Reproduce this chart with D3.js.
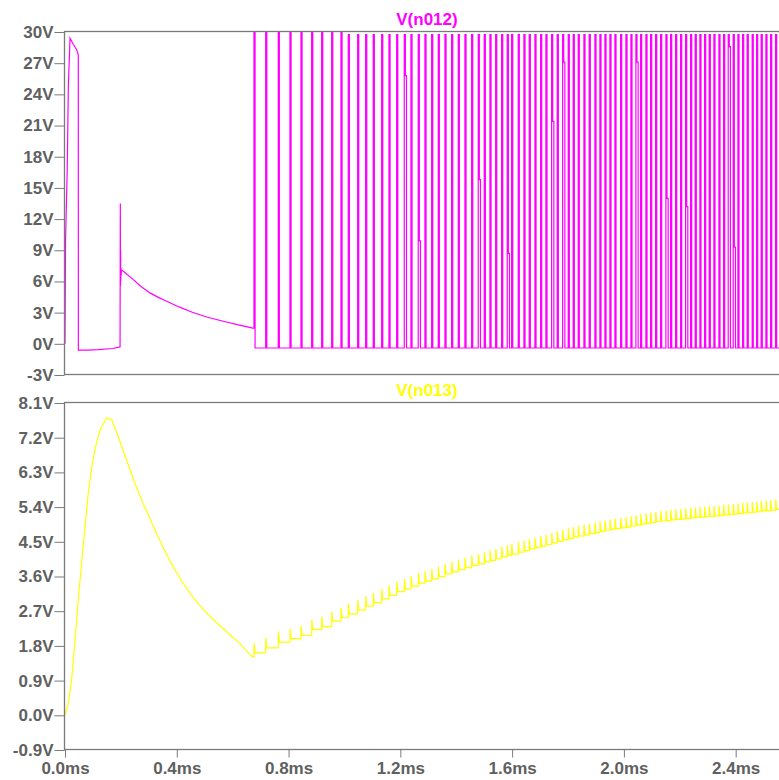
<!DOCTYPE html>
<html><head><meta charset="utf-8">
<script src="https://cdn.jsdelivr.net/npm/d3@7"></script>
<style>
html,body{margin:0;padding:0;background:#fff;overflow:hidden}
svg{display:block}
.tick text{font-family:"Liberation Sans",Arial,sans-serif;font-weight:bold;font-size:17px;fill:#606060}
.tick line{stroke:#7a7a7a}
</style></head><body>
<svg id="c" width="779" height="780"></svg>
<script>
// ---------- data (ms, V) ----------
const xTicks = [0, 0.4, 0.8, 1.2, 1.6, 2.0, 2.4];
const xTickLabels = ["0.0ms","0.4ms","0.8ms","1.2ms","1.6ms","2.0ms","2.4ms"];
const topTicks = [-3, 0, 3, 6, 9, 12, 15, 18, 21, 24, 27, 30];
const topTickLabels = ["-3V","0V","3V","6V","9V","12V","15V","18V","21V","24V","27V","30V"];
const botTicks = [-0.9, 0, 0.9, 1.8, 2.7, 3.6, 4.5, 5.4, 6.3, 7.2, 8.1];
const botTickLabels = ["-0.9V","0.0V","0.9V","1.8V","2.7V","3.6V","4.5V","5.4V","6.3V","7.2V","8.1V"];
const topTitle = "V(n012)";
const botTitle = "V(n013)";

// V(n012) before the pulse train
const n012Time  = [0, 0.002, 0.008, 0.012, 0.018, 0.030, 0.0418, 0.0476, 0.0478, 0.080, 0.120, 0.170, 0.190, 0.197,
                   0.198, 0.1985, 0.199, 0.1995, 0.200, 0.201, 0.202, 0.2086, 0.2444, 0.272, 0.304, 0.334, 0.364, 0.408,
                   0.4555, 0.510, 0.5664, 0.620, 0.668, 0.675];
const n012Value = [0, 10.0, 16.8, 24.8, 29.4, 28.8, 28.3, 27.8, -0.6, -0.6, -0.55, -0.45, -0.35, -0.3,
                   13.5, 5.6, 9.0, 6.0, 7.3, 6.6, 7.1, 6.98, 6.18, 5.52, 4.9, 4.47, 4.1, 3.55,
                   3.04, 2.56, 2.17, 1.82, 1.54, 1.5];

// pulse train: rising-edge times (ms)
const pulseStart = [0.6762,0.7181,0.7631,0.8050,0.8444,0.8826,0.9184,0.9542,0.9875,1.0136,
  1.0472,1.0758,1.1030,1.1331,1.1592,1.1868,1.2140,1.2379,1.2640,1.2880,
  1.3120,1.3356,1.3596,1.3835,1.4072,1.4311,1.4551,1.4787,1.5002,1.5206,
  1.5410,1.5624,1.5825,1.5982,1.6218,1.6422,1.6612,1.6816,1.7020,1.7209,
  1.7413,1.7614,1.7807,1.8007,1.8186,1.8365,1.8569,1.8758,1.8962,1.9141,
  1.9320,1.9499,1.9678,1.9882,2.0072,2.0250,2.0429,2.0597,2.0787,2.0955,
  2.1134,2.1313,2.1503,2.1671,2.1850,2.2029,2.2207,2.2386,2.2551,2.2719,
  2.2887,2.3052,2.3220,2.3399,2.3567,2.3732,2.3911,2.4079,2.4247,2.4411,
  2.4590,2.4748,2.4912,2.5081,2.5249,2.5427];
const pulseHighFirst = 29.95;   // first pulses touch the frame
const pulseHighRest = 29.75;
const pulseHighFirstCount = 9;
const pulseLow = -0.4;
const pulseWidth = 0.004;
// two-step falling edges (intermediate level)
const partialTimes  = [1.2165, 1.2676, 1.4787, 1.5860, 1.7388, 1.7828, 2.0454, 2.1503, 2.2218, 2.3767, 2.3853];
const partialLevels = [25.8,   9.9,    15.8,   8.7,    21.4,   27.1,   27.1,   14.0,   13.2,   28.6,   9.3];
const endTime = 2.56;

// V(n013) before the pulse train
const n013Time  = [0, 0.012, 0.024, 0.036, 0.048, 0.066, 0.083, 0.096, 0.107, 0.125, 0.149, 0.167, 0.191, 0.221, 0.250, 0.280,
                   0.328, 0.360, 0.3875, 0.420, 0.459, 0.500, 0.543, 0.585, 0.626, 0.668, 0.675];
const n013Value = [0, 0.32, 0.95, 1.95, 3.05, 4.45, 5.75, 6.45, 6.90, 7.39, 7.72, 7.67, 7.22, 6.61, 6.02, 5.49,
                   4.71, 4.22, 3.85, 3.45, 3.05, 2.70, 2.40, 2.12, 1.86, 1.53, 1.51];
// V(n013) settled level after each pulse
const n013Step = [1.62,1.75,1.90,1.99,2.07,2.22,2.30,2.44,2.53,2.63,
  2.73,2.83,2.92,3.02,3.11,3.21,3.28,3.35,3.43,3.48,
  3.54,3.60,3.67,3.72,3.78,3.83,3.89,3.93,3.98,4.02,
  4.06,4.11,4.15,4.18,4.23,4.27,4.31,4.35,4.39,4.43,
  4.47,4.51,4.55,4.59,4.62,4.65,4.68,4.71,4.74,4.77,
  4.80,4.82,4.84,4.86,4.88,4.91,4.93,4.96,4.98,5.00,
  5.02,5.04,5.05,5.07,5.08,5.09,5.11,5.12,5.13,5.14,
  5.15,5.16,5.17,5.18,5.20,5.21,5.22,5.23,5.25,5.26,
  5.27,5.28,5.30,5.31,5.32,5.34];
const n013Spike = 0.26;

// ---------- layout ----------
const W = 779, H = 780;
const left = 65, right = 779;
const topY0 = 32, topY1 = 375;
const botY0 = 403, botY1 = 750;
const frameColor = "#7a7a7a";
const magenta = "#ff00ff", yellow = "#ffff00";

const svg = d3.select("#c");
const x = d3.scaleLinear().domain([0, 2.555]).range([left, right]);
const yTop = d3.scaleLinear().domain([-3, 30]).range([topY1, topY0]);
const yBot = d3.scaleLinear().domain([-0.9, 8.1]).range([botY1, botY0]);

// ---------- build series ----------
function nearestPulse(t) {
  let best = 0, bd = 1e9;
  pulseStart.forEach((ps, j) => { const d = Math.abs(ps - t); if (d < bd) { bd = d; best = j; } });
  return best;
}
const stepByPulse = {};
partialTimes.forEach((pt, k) => {
  const j = nearestPulse(pt);
  if (!(j in stepByPulse)) stepByPulse[j] = [pt, partialLevels[k]];
});

const topPts = n012Time.map((t, i) => [t, n012Value[i]]);
pulseStart.forEach((s, i) => {
  const hi = i < pulseHighFirstCount ? pulseHighFirst : pulseHighRest;
  const prev = topPts[topPts.length - 1][1];
  topPts.push([s, prev], [s, hi]);
  if (i in stepByPulse) {
    const [pt, lvl] = stepByPulse[i];
    const f = Math.max(s + pulseWidth, pt);
    topPts.push([f, hi], [f, lvl], [f + 0.004, lvl], [f + 0.004, pulseLow]);
  } else {
    topPts.push([s + pulseWidth, hi], [s + pulseWidth, pulseLow]);
  }
});
topPts.push([endTime, pulseLow]);

const botPts = n013Time.map((t, i) => [t, n013Value[i]]);
pulseStart.forEach((s, i) => {
  const prev = botPts[botPts.length - 1][1];
  botPts.push([s, prev], [s + 0.0005, n013Step[i] + n013Spike], [s + pulseWidth, n013Step[i]]);
});
botPts.push([endTime, n013Step[n013Step.length - 1]]);

// ---------- clips ----------
const defs = svg.append("defs");
defs.append("clipPath").attr("id", "clipTop").append("rect")
  .attr("x", left).attr("y", topY0).attr("width", W).attr("height", topY1 - topY0);
defs.append("clipPath").attr("id", "clipBot").append("rect")
  .attr("x", left).attr("y", botY0).attr("width", W).attr("height", botY1 - botY0);

const lbl = s => s.style("font-family", '"Liberation Sans",Arial,sans-serif')
  .style("font-weight", "bold").style("font-size", "17px");

// ---------- top pane ----------
const gTop = svg.append("g");
gTop.append("g").attr("clip-path", "url(#clipTop)")
  .append("path").datum(topPts)
  .attr("fill", "none").attr("stroke", magenta).attr("stroke-width", 1.2)
  .attr("d", d3.line().x(d => x(d[0])).y(d => yTop(d[1])));
gTop.append("rect").attr("x", left - 0.5).attr("y", topY0 - 0.5)
  .attr("width", W).attr("height", topY1 - topY0)
  .attr("fill", "none").attr("stroke", frameColor).attr("stroke-width", 1.3);
const axTop = gTop.append("g").attr("transform", `translate(${left - 0.5},0)`)
  .call(d3.axisLeft(yTop).tickValues(topTicks).tickFormat((d, i) => topTickLabels[i])
    .tickSize(10).tickSizeOuter(0).tickPadding(1));
axTop.select(".domain").remove();
gTop.append("text").attr("x", 427).attr("y", 25).attr("text-anchor", "middle")
  .call(lbl).attr("fill", magenta).text(topTitle);

// ---------- bottom pane ----------
const gBot = svg.append("g");
gBot.append("g").attr("clip-path", "url(#clipBot)")
  .append("path").datum(botPts)
  .attr("fill", "none").attr("stroke", yellow).attr("stroke-width", 1.2)
  .attr("d", d3.line().x(d => x(d[0])).y(d => yBot(d[1])));
gBot.append("rect").attr("x", left - 0.5).attr("y", botY0 - 0.5)
  .attr("width", W).attr("height", botY1 - botY0)
  .attr("fill", "none").attr("stroke", frameColor).attr("stroke-width", 1.3);
const axBot = gBot.append("g").attr("transform", `translate(${left - 0.5},0)`)
  .call(d3.axisLeft(yBot).tickValues(botTicks).tickFormat((d, i) => botTickLabels[i])
    .tickSize(10).tickSizeOuter(0).tickPadding(1));
axBot.select(".domain").remove();
const axX = gBot.append("g").attr("transform", `translate(0,${botY1 - 0.5})`)
  .call(d3.axisBottom(x).tickValues(xTicks).tickFormat((d, i) => xTickLabels[i])
    .tickSize(8).tickSizeOuter(0).tickPadding(4));
axX.select(".domain").remove();
gBot.append("text").attr("x", 427).attr("y", 396).attr("text-anchor", "middle")
  .call(lbl).attr("fill", yellow).text(botTitle);
</script></body></html>
